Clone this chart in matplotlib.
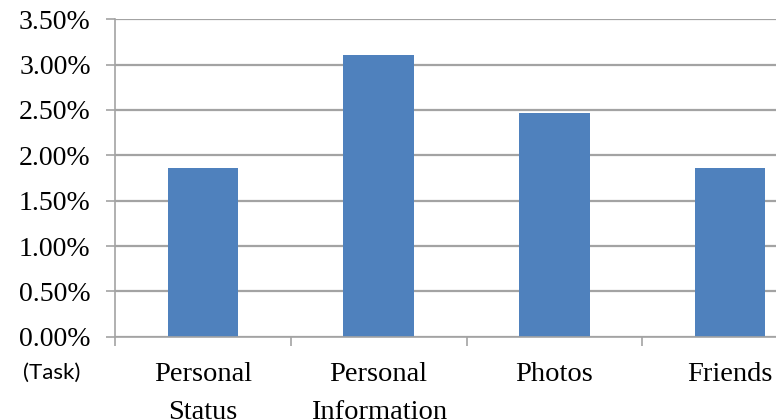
import matplotlib
matplotlib.use("Agg")
import matplotlib.pyplot as plt
from matplotlib.ticker import FixedLocator, StrMethodFormatter

# Share of each task (percent)
categories = ["Personal\nStatus", "Personal\nInformation", "Photos", "Friends"]
values = [1.86, 3.11, 2.47, 1.86]
y_ticks = [0.0, 0.5, 1.0, 1.5, 2.0, 2.5, 3.0, 3.5]
axis_caption = "(Task)"

BAR_COLOR = "#4F81BD"
GRID_COLOR = "#a3a3a3"
SERIF = ["Liberation Serif", "DejaVu Serif"]

fig = plt.figure(figsize=(7.76, 4.2), dpi=100)
# the plot area runs past the right edge of the figure
ax = fig.add_axes([115 / 776, 1 - 336.7 / 420, 703 / 776, (336.7 - 19.3) / 420])

x = list(range(len(categories)))
ax.bar(x, values, width=0.40, color=BAR_COLOR, zorder=3)

ax.set_xlim(-0.5, len(categories) - 0.5)
ax.set_ylim(y_ticks[0], y_ticks[-1])

# y axis: percent labels with horizontal gridlines
ax.yaxis.set_major_locator(FixedLocator(y_ticks))
ax.yaxis.set_major_formatter(StrMethodFormatter("{x:.2f}%"))
ax.grid(axis="y", color=GRID_COLOR, linewidth=1.6, zorder=0)
ax.tick_params(axis="y", direction="out", length=6.5, width=1.2, color=GRID_COLOR,
               pad=11, labelsize=20, labelcolor="black")
for lbl in ax.get_yticklabels():
    lbl.set_family(SERIF)

# x axis: tick marks between categories, labels centred under bars
ax.xaxis.set_major_locator(FixedLocator([i - 0.5 for i in range(len(categories) + 1)]))
ax.xaxis.set_major_formatter(plt.NullFormatter())
ax.xaxis.set_minor_locator(FixedLocator(x))
ax.set_xticklabels(categories, minor=True)
ax.tick_params(axis="x", which="major", direction="out", length=6.5, width=1.2,
               color=GRID_COLOR)
ax.tick_params(axis="x", which="minor", length=0, pad=18, labelsize=20.5,
               labelcolor="black")
for lbl in ax.get_xticklabels(minor=True):
    lbl.set_family(SERIF)
    lbl.set_linespacing(1.7)

for side in ("top", "right"):
    ax.spines[side].set_visible(False)
for side in ("left", "bottom"):
    ax.spines[side].set_color(GRID_COLOR)
    ax.spines[side].set_linewidth(1.2)
    ax.spines[side].set_zorder(4)

fig.text(52 / 776, 1 - 373 / 420, axis_caption, ha="center", va="center",
         fontsize=16, family=["Lato", "DejaVu Sans"], color="black")

fig.savefig("out.png", dpi=100, facecolor="white")
